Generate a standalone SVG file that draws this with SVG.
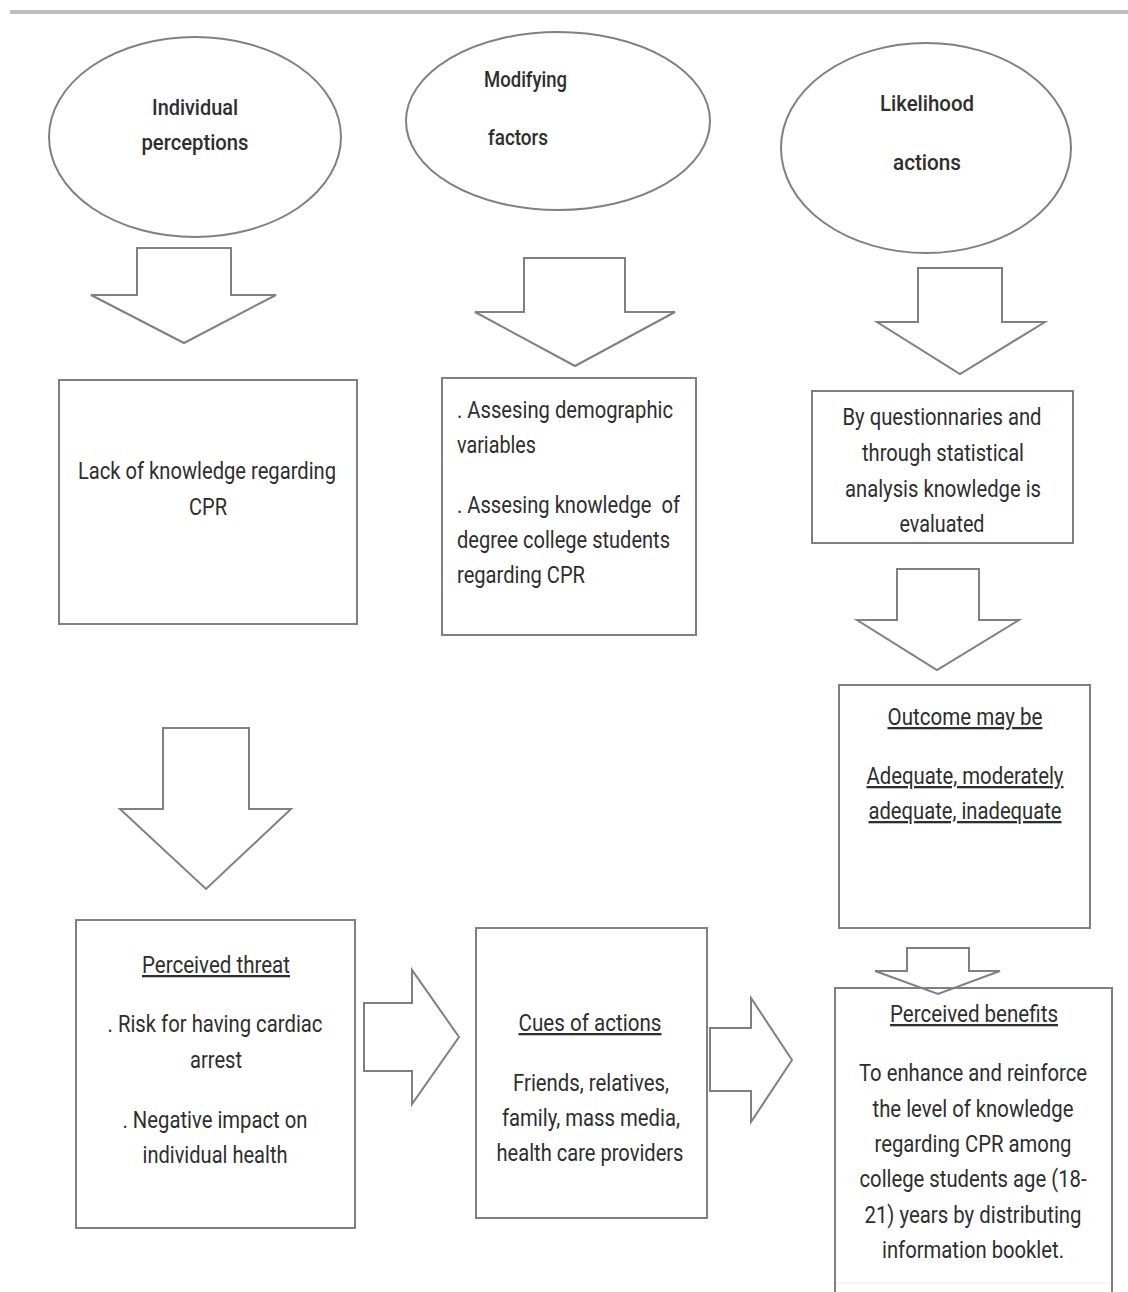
<svg xmlns="http://www.w3.org/2000/svg" width="1128" height="1292" viewBox="0 0 1128 1292">
<style>
.shape{fill:#fff;stroke:#808080;stroke-width:2}
.arrow{fill:#fff;stroke:#808080;stroke-width:2;stroke-linejoin:miter}
text{font-family:Roboto,"Liberation Sans",sans-serif;fill:#2e2e2e;font-size:23px}
.el{font-size:22px;font-weight:500}
.c{text-anchor:middle}
.u{text-decoration:underline}
.pre{white-space:pre}
</style>
<rect x="0" y="0" width="1128" height="1292" fill="#fff"/>
<line x1="10" y1="12" x2="1128" y2="12" stroke="#bdbdbd" stroke-width="4"/>

<g id="node-individual-perceptions">
<ellipse class="shape" cx="195" cy="137" rx="146" ry="100"/>
<text class="el c" x="195" y="115" textLength="86" lengthAdjust="spacingAndGlyphs">Individual</text>
<text class="el c" x="195" y="150" textLength="107" lengthAdjust="spacingAndGlyphs">perceptions</text>
</g>
<g id="node-modifying-factors">
<ellipse class="shape" cx="558" cy="121" rx="152" ry="89"/>
<text class="el" x="484" y="87" textLength="83" lengthAdjust="spacingAndGlyphs">Modifying</text>
<text class="el" x="488" y="145" textLength="60" lengthAdjust="spacingAndGlyphs">factors</text>
</g>
<g id="node-likelihood-actions">
<ellipse class="shape" cx="926" cy="148" rx="145" ry="105"/>
<text class="el" x="880" y="111" textLength="94" lengthAdjust="spacingAndGlyphs">Likelihood</text>
<text class="el" x="893" y="170" textLength="68" lengthAdjust="spacingAndGlyphs">actions</text>
</g>

<g id="node-lack-of-knowledge">
<rect class="shape" x="59" y="380" width="298" height="244"/>
<text class="c" x="207" y="479" textLength="258" lengthAdjust="spacingAndGlyphs">Lack of knowledge regarding</text>
<text class="c" x="208" y="515" textLength="38" lengthAdjust="spacingAndGlyphs">CPR</text>
</g>
<g id="node-assessing">
<rect class="shape" x="442" y="378" width="254" height="257"/>
<text x="457" y="418" textLength="216" lengthAdjust="spacingAndGlyphs">. Assesing demographic</text>
<text x="457" y="453" textLength="79" lengthAdjust="spacingAndGlyphs">variables</text>
<text class="pre" x="457" y="513" textLength="223" lengthAdjust="spacingAndGlyphs">. Assesing knowledge  of</text>
<text x="457" y="548" textLength="213" lengthAdjust="spacingAndGlyphs">degree college students</text>
<text x="457" y="583" textLength="128" lengthAdjust="spacingAndGlyphs">regarding CPR</text>
</g>
<g id="node-questionnaires">
<rect class="shape" x="812" y="391" width="261" height="152"/>
<text class="c" x="942" y="425" textLength="199" lengthAdjust="spacingAndGlyphs">By questionnaries and</text>
<text class="c" x="943" y="461" textLength="162" lengthAdjust="spacingAndGlyphs">through statistical</text>
<text class="c" x="943" y="497" textLength="196" lengthAdjust="spacingAndGlyphs">analysis knowledge is</text>
<text class="c" x="942" y="532" textLength="85" lengthAdjust="spacingAndGlyphs">evaluated</text>
</g>
<g id="node-outcome">
<rect class="shape" x="839" y="685" width="251" height="243"/>
<text class="c u" x="965" y="725" textLength="155" lengthAdjust="spacingAndGlyphs">Outcome may be</text>
<text class="c u" x="965" y="784" textLength="197" lengthAdjust="spacingAndGlyphs">Adequate, moderately</text>
<text class="c u" x="965" y="819" textLength="193" lengthAdjust="spacingAndGlyphs">adequate, inadequate</text>
</g>
<g id="node-perceived-threat">
<rect class="shape" x="76" y="920" width="279" height="308"/>
<text class="c u" x="216" y="973" textLength="148" lengthAdjust="spacingAndGlyphs">Perceived threat</text>
<text class="c" x="215" y="1032" textLength="215" lengthAdjust="spacingAndGlyphs">. Risk for having cardiac</text>
<text class="c" x="216" y="1068" textLength="52" lengthAdjust="spacingAndGlyphs">arrest</text>
<text class="c" x="215" y="1128" textLength="185" lengthAdjust="spacingAndGlyphs">. Negative impact on</text>
<text class="c" x="215" y="1163" textLength="145" lengthAdjust="spacingAndGlyphs">individual health</text>
</g>
<g id="node-cues-of-actions">
<rect class="shape" x="476" y="928" width="231" height="290"/>
<text class="c u" x="590" y="1031" textLength="143" lengthAdjust="spacingAndGlyphs">Cues of actions</text>
<text class="c" x="591" y="1091" textLength="156" lengthAdjust="spacingAndGlyphs">Friends, relatives,</text>
<text class="c" x="591" y="1126" textLength="178" lengthAdjust="spacingAndGlyphs">family, mass media,</text>
<text class="c" x="590" y="1161" textLength="187" lengthAdjust="spacingAndGlyphs">health care providers</text>
</g>

<g id="connectors">
<polygon class="arrow" points="137,248 231,248 231,295 276,295 184,343 91,295 137,295"/>
<polygon class="arrow" points="524,258 625,258 625,312 675,312 575,366 475,312 524,312"/>
<polygon class="arrow" points="918,268 1002,268 1002,322 1045,322 960,374 877,322 918,322"/>
<polygon class="arrow" points="897,569 979,569 979,620 1019,620 937,670 857,620 897,620"/>
<polygon class="arrow" points="163,728 249,728 249,809 291,809 206,889 120,809 163,809"/>
<polygon class="arrow" points="364,1003 412,1003 412,970 459,1037 412,1104 412,1071 364,1071"/>
<polygon class="arrow" points="710,1028 751,1028 751,998 792,1060 751,1122 751,1091 710,1091"/>
<polygon class="arrow" points="907,948 969,948 969,971 1000,971 938,994 875,971 907,971"/>
</g>

<g id="node-perceived-benefits">
<path d="M835,1300 V988 H1112 V1300" fill="none" stroke="#808080" stroke-width="2"/>
<line x1="836" y1="1283" x2="1111" y2="1283" stroke="#ececec" stroke-width="1"/>
<text class="c u" x="974" y="1022" textLength="168" lengthAdjust="spacingAndGlyphs">Perceived benefits</text>
<text class="c" x="973" y="1081" textLength="228" lengthAdjust="spacingAndGlyphs">To enhance and reinforce</text>
<text class="c" x="973" y="1117" textLength="201" lengthAdjust="spacingAndGlyphs">the level of knowledge</text>
<text class="c" x="973" y="1152" textLength="197" lengthAdjust="spacingAndGlyphs">regarding CPR among</text>
<text class="c" x="973" y="1187" textLength="227" lengthAdjust="spacingAndGlyphs">college students age (18-</text>
<text class="c" x="973" y="1223" textLength="217" lengthAdjust="spacingAndGlyphs">21) years by distributing</text>
<text class="c" x="973" y="1258" textLength="182" lengthAdjust="spacingAndGlyphs">information booklet.</text>
</g>
</svg>
